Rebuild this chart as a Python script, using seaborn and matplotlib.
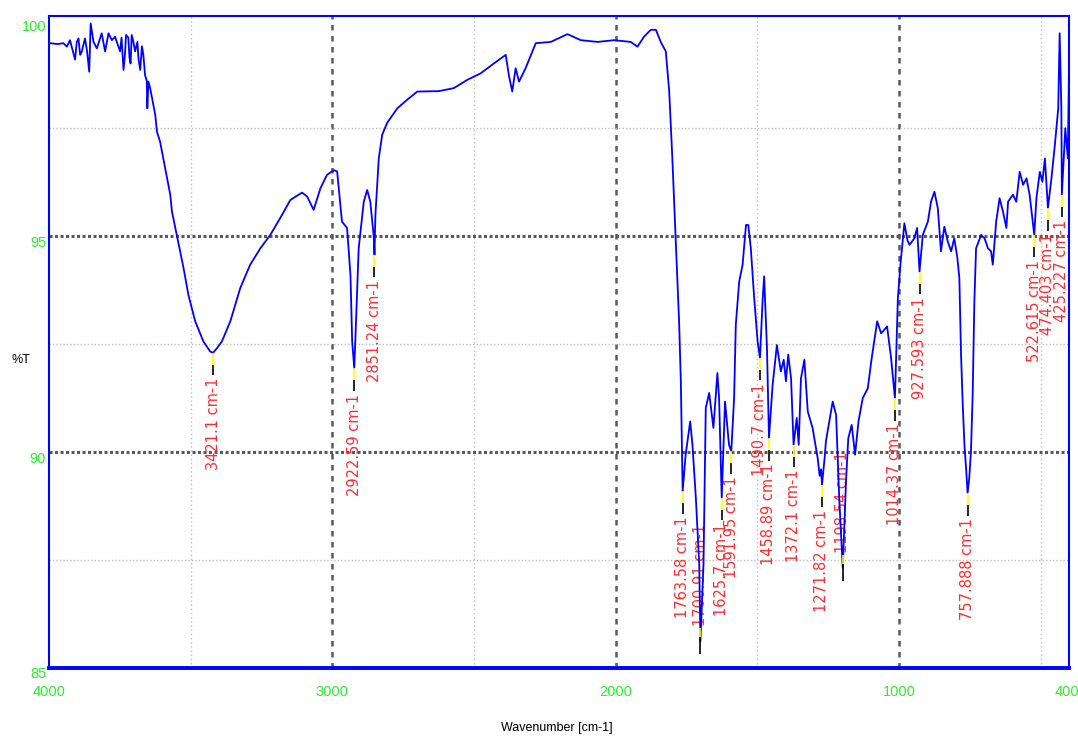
import numpy as np
import pandas as pd
import matplotlib
matplotlib.use("Agg")
import matplotlib.pyplot as plt
import matplotlib.transforms as mtransforms
import seaborn as sns

# ---------------- data ----------------
wavenumber = [
    4000, 3996, 3970, 3949, 3937, 3926, 3908, 3902, 3896, 3890, 3884, 3878, 3873, 3866,
    3858, 3853, 3843, 3831, 3814, 3802, 3790, 3778, 3767, 3749, 3744, 3737, 3732, 3728,
    3720, 3716, 3712, 3708, 3702, 3696, 3688, 3684, 3678, 3672, 3667,
    3661, 3655, 3653, 3649, 3643, 3625, 3619, 3608, 3590, 3572, 3566, 3549, 3525, 3508,
    3484, 3455, 3431, 3421.1, 3408, 3390, 3360, 3325, 3290, 3254, 3219, 3184, 3148, 3107,
    3089, 3066, 3042, 3019, 2995, 2983, 2966, 2948, 2936, 2930, 2922.59, 2919, 2907, 2889,
    2877, 2866, 2854, 2851.24, 2848, 2836, 2824, 2807, 2771, 2736, 2700, 2624, 2571, 2524,
    2477, 2430, 2388, 2377, 2365, 2353, 2341, 2318, 2282, 2229, 2170, 2123, 2064, 2005,
    1947, 1923, 1900, 1876, 1858, 1841, 1823, 1811, 1800, 1788, 1776, 1770, 1763.58, 1753,
    1737, 1729, 1717, 1705, 1700.91, 1690, 1682, 1670, 1655, 1641, 1635, 1625.7, 1614, 1600,
    1591.95, 1582, 1576, 1564, 1552, 1540, 1532, 1523, 1511, 1499, 1490.7, 1481, 1476, 1466,
    1458.89, 1446, 1431, 1417, 1407, 1399, 1391, 1381, 1372.1, 1361, 1354, 1346, 1334, 1322,
    1305, 1287, 1280, 1275, 1271.82, 1262, 1258, 1234, 1222, 1211, 1198.54, 1187, 1179, 1167,
    1155, 1143, 1128, 1110, 1098, 1077, 1063, 1042, 1028, 1014.37, 1004, 995, 981, 970,
    963, 946, 936, 927.593, 916, 898, 887, 875, 863, 852, 840, 828, 816, 805,
    794, 787, 781, 775, 769, 762, 757.888, 752, 746, 740, 734, 728, 710, 698,
    686, 675, 669, 657, 645, 633, 621, 615, 598, 586, 574, 562, 550, 539,
    522.615, 515, 503, 494, 485, 474.403, 462, 450, 438, 433, 427, 425.227, 413, 404, 400,
]
transmittance = [
    99.45, 99.47, 99.45, 99.47, 99.39, 99.54, 99.09, 99.50, 99.58, 99.20, 99.28, 99.45, 99.58, 99.30,
    98.81, 99.93, 99.50, 99.35, 99.70, 99.28, 99.70, 99.54, 99.62, 99.28, 99.60, 98.85, 99.20, 99.66,
    99.60, 99.14, 99.00, 99.66, 99.50, 99.28, 99.50, 99.10, 98.85, 99.40, 99.20,
    98.73, 98.60, 97.96, 98.58, 98.43, 97.81, 97.42, 97.19, 96.57, 95.96, 95.57, 95.03, 94.26, 93.64,
    93.03, 92.56, 92.33, 92.30, 92.40, 92.56, 93.03, 93.80, 94.34, 94.72, 95.03, 95.42, 95.84, 96.01,
    95.92, 95.61, 96.11, 96.42, 96.53, 96.50, 95.34, 95.19, 94.10, 92.56, 91.94, 92.56, 94.72, 95.80,
    96.07, 95.80, 95.00, 94.57, 95.49, 96.81, 97.35, 97.62, 97.96, 98.16, 98.35, 98.36, 98.43, 98.62,
    98.77, 99.00, 99.20, 98.73, 98.35, 98.89, 98.58, 98.89, 99.47, 99.50, 99.68, 99.54, 99.50, 99.54,
    99.50, 99.39, 99.62, 99.78, 99.78, 99.50, 99.28, 98.35, 96.81, 94.88, 93.00, 91.64, 89.09, 89.94,
    90.71, 90.17, 88.94, 87.40, 85.62, 87.40, 91.02, 91.37, 90.56, 91.83, 91.25, 88.94, 91.17, 90.17,
    90.02, 91.25, 92.95, 93.95, 94.34, 95.26, 95.26, 94.72, 93.56, 92.56, 92.18, 93.56, 94.07, 92.41,
    90.32, 91.56, 92.48, 91.87, 92.14, 91.64, 92.26, 91.71, 90.17, 90.79, 90.17, 91.71, 92.14, 90.94,
    90.56, 89.86, 89.45, 89.60, 89.24, 89.90, 90.25, 91.17, 90.86, 88.94, 87.32, 89.33, 90.32, 90.63,
    89.94, 90.71, 91.25, 91.48, 92.10, 93.03, 92.75, 92.91, 92.18, 91.25, 93.56, 94.34, 95.30, 94.90,
    94.80, 94.95, 95.19, 94.18, 95.03, 95.34, 95.80, 96.03, 95.65, 94.65, 95.22, 94.88, 94.65, 94.95,
    94.50, 94.03, 92.25, 91.09, 90.17, 89.50, 89.05, 89.40, 90.02, 91.33, 93.49, 94.72, 95.03, 94.95,
    94.72, 94.65, 94.34, 95.34, 95.88, 95.57, 95.19, 95.80, 95.96, 95.80, 96.49, 96.19, 96.34, 95.96,
    95.03, 95.88, 96.49, 96.26, 96.80, 95.65, 96.34, 97.11, 97.96, 99.70, 97.96, 95.96, 97.50, 96.80, 98.90,
]

peak_wavenumbers = [3421.1, 2922.59, 2851.24, 1763.58, 1700.91, 1625.7, 1591.95, 1490.7,
                    1458.89, 1372.1, 1271.82, 1198.54, 1014.37, 927.593, 757.888,
                    522.615, 474.403, 425.227]
peak_labels = ["3421.1 cm-1", "2922.59 cm-1", "2851.24 cm-1", "1763.58 cm-1",
               "1700.91 cm-1", "1625.7 cm-1", "1591.95 cm-1", "1490.7 cm-1",
               "1458.89 cm-1", "1372.1 cm-1", "1271.82 cm-1", "1198.54 cm-1",
               "1014.37 cm-1", "927.593 cm-1", "757.888 cm-1", "522.615 cm-1",
               "474.403 cm-1", "425.227 cm-1"]

x_tick_values = [4000, 3000, 2000, 1000, 400]
x_tick_labels = ["4000", "3000", "2000", "1000", "400"]
x_minor_ticks = [3500, 2500, 1500, 500]
y_tick_values = [85, 90, 95, 100]
y_tick_labels = ["85", "90", "95", "100"]
y_minor_ticks = [87.5, 92.5, 97.5]

x_title = "Wavenumber [cm-1]"
y_title = "%T"

# ---------------- style ----------------
sns.set_style("white")
plt.rcParams["font.family"] = ["DejaVu Sans"]
narrow = ["Liberation Sans Narrow", "Liberation Sans", "DejaVu Sans"]
BLUE = "#0000ff"
GREEN = "#2bf02b"
RED = "#ff2d2d"

fig = plt.figure(figsize=(10.78, 7.40), dpi=100)
ax = fig.add_axes([49 / 1078, 72 / 740, (1069 - 49) / 1078, (668 - 16) / 740])

df = pd.DataFrame({"Wavenumber": wavenumber, "T": transmittance})
sns.lineplot(data=df, x="Wavenumber", y="T", sort=False, estimator=None,
             color=BLUE, lw=1.3, ax=ax, zorder=3)

ax.set_xlim(4000, 400)
ax.set_ylim(85, 100.1)

ax.set_xticks(x_tick_values)
ax.set_xticklabels(x_tick_labels)
ax.set_xticks(x_minor_ticks, minor=True)
ax.set_yticks(y_tick_values)
ax.set_yticklabels(y_tick_labels)
ax.set_yticks(y_minor_ticks, minor=True)

ax.grid(which="major", axis="x", color="#5a5a5a", lw=1.8, ls=(0, (2.2, 2.2)))
ax.grid(which="minor", axis="x", color="#bdbdbd", lw=1.0, ls=(0, (1, 2)))
ax.grid(which="major", axis="y", color="#5a5a5a", lw=2.2, ls=(0, (1, 0.8)))
ax.grid(which="minor", axis="y", color="#bdbdbd", lw=1.0, ls=(0, (1, 1.5)))
ax.set_axisbelow(True)

# gridlines at the frame edges are not drawn
for tk in (ax.xaxis.get_major_ticks()[0], ax.xaxis.get_major_ticks()[-1],
           ax.yaxis.get_major_ticks()[0], ax.yaxis.get_major_ticks()[-1]):
    tk.gridline.set_visible(False)

ax.tick_params(axis="x", which="major", direction="in", length=13, width=1.4,
               color=BLUE, pad=12, labelcolor=GREEN, labelsize=10.5)
ax.tick_params(axis="x", which="minor", direction="in", length=5.8, width=1.2, color=BLUE)
ax.tick_params(axis="y", which="major", direction="in", length=5.8, width=2.0,
               color=BLUE, pad=2, labelcolor=GREEN, labelsize=10.5)
ax.tick_params(axis="y", which="minor", direction="in", length=3, width=1.5, color=BLUE)

for lbl in ax.get_xticklabels() + ax.get_yticklabels():
    lbl.set_fontfamily(narrow)
offset = mtransforms.ScaledTranslation(0, -5 / 100, fig.dpi_scale_trans)
for lbl in ax.get_yticklabels():
    lbl.set_transform(lbl.get_transform() + offset)
last_x = ax.get_xticklabels()[-1]
last_x.set_transform(last_x.get_transform()
                     + mtransforms.ScaledTranslation(-2 / 100, 0, fig.dpi_scale_trans))

for name, sp in ax.spines.items():
    sp.set_visible(True)
    sp.set_color(BLUE)
    sp.set_linewidth(1.5)
ax.spines["bottom"].set_linewidth(2.8)

ax.set_xlabel(x_title, fontsize=9, color="black", fontfamily=narrow)
ax.xaxis.set_label_coords(0.498, -0.083)
ax.set_ylabel(y_title, fontsize=9, color="black", rotation=0, fontfamily=narrow,
              va="center", ha="center")
ax.yaxis.set_label_coords(-0.028, 0.472)

# ---------------- peak annotations ----------------
order = np.argsort(wavenumber)
wn_sorted = np.asarray(wavenumber, dtype=float)[order]
t_sorted = np.asarray(transmittance, dtype=float)[order]
peak_T = np.interp(peak_wavenumbers, wn_sorted, t_sorted)

label_span = 2.6
y_min = 85
for wn_p, t_p, txt in zip(peak_wavenumbers, peak_T, peak_labels):
    if t_p - 0.58 - label_span >= y_min:
        ax.vlines(wn_p, t_p - 0.28, t_p, colors="#ffff00", lw=1.2, zorder=4)
        ax.vlines(wn_p, t_p - 0.52, t_p - 0.28, colors="black", lw=1.2, zorder=4)
        ax.text(wn_p, t_p - 0.58, txt, rotation=90, ha="center", va="top",
                color=RED, fontsize=10.5, zorder=2)
    else:
        ax.vlines(wn_p, t_p + 0.1, t_p + 0.3, colors="#ffff00", lw=1.2, zorder=4)
        ax.vlines(wn_p, t_p - 0.3, t_p + 0.1, colors="black", lw=1.2, zorder=4)
        ax.text(wn_p, t_p + 0.35, txt, rotation=90, ha="center", va="bottom",
                color=RED, fontsize=10.5, zorder=2)

fig.savefig("out.png", dpi=100)
